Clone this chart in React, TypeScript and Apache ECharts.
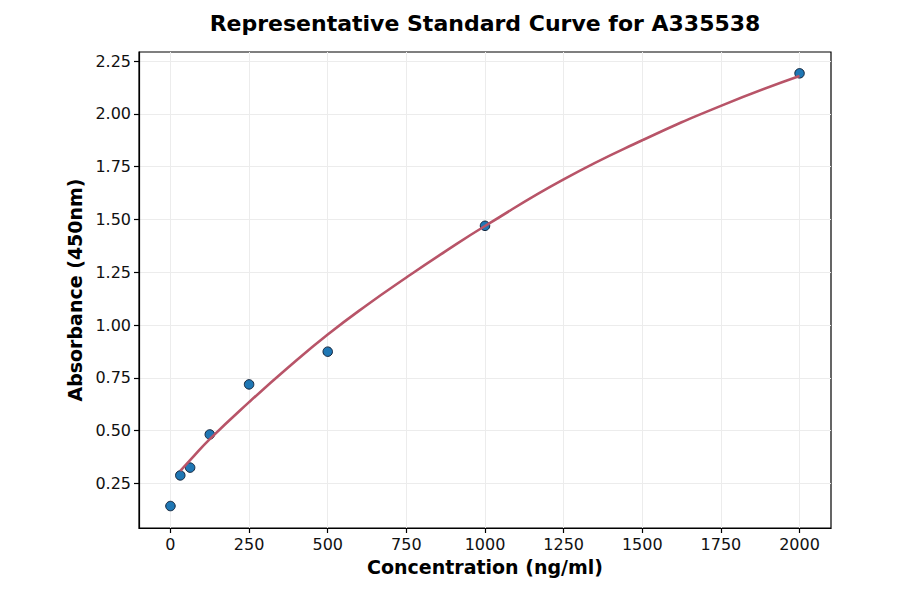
import { useEffect, useRef } from "react";
import * as echarts from "echarts";

// standard points
const concentrations = [0, 31.25, 62.5, 125, 250, 500, 1000, 2000];
const absorbances = [0.143, 0.288, 0.325, 0.482, 0.719, 0.874, 1.47, 2.192];

// fitted curve
const curveX = [31.25, 62.5, 125, 250, 375, 500, 625, 750, 875, 1000, 1250, 1500, 1750, 2000];
const curveY = [0.31, 0.36, 0.46, 0.635, 0.8, 0.955, 1.095, 1.225, 1.35, 1.469, 1.69, 1.875, 2.038, 2.179];

const xTicks = [0, 250, 500, 750, 1000, 1250, 1500, 1750, 2000];
const yTicks = [0.25, 0.5, 0.75, 1.0, 1.25, 1.5, 1.75, 2.0, 2.25];

const FONT = "DejaVu Sans";

function App() {
  const chartRef = useRef<HTMLDivElement>(null);

  useEffect(() => {
    if (!chartRef.current) return;
    const chart = echarts.init(chartRef.current, undefined, { renderer: "svg" });

    const axisCommon = {
      axisLine: { show: true, onZero: false, lineStyle: { color: "#000", width: 1.2 } },
      axisTick: { show: true, length: 5, lineStyle: { color: "#000", width: 1.2 } },
      splitLine: { show: true, lineStyle: { color: "#ececec", width: 1 } },
      nameLocation: "middle" as const,
      nameTextStyle: { fontFamily: FONT, fontWeight: "bold" as const, fontSize: 19, color: "#000" },
    };

    const option: echarts.EChartsOption = {
      animation: false,
      backgroundColor: "#fff",
      graphic: [
        {
          type: "text",
          x: 485,
          y: 23,
          style: {
            text: "Representative Standard Curve for A335538",
            font: `bold 22px "${FONT}"`,
            fill: "#000",
            textAlign: "center",
            textVerticalAlign: "middle",
          },
        },
      ],
      grid: {
        left: 139,
        right: 69,
        top: 52,
        bottom: 66,
        show: true,
        borderColor: "#000",
        borderWidth: 1.2,
        backgroundColor: "transparent",
      },
      xAxis: {
        type: "value",
        min: -100,
        max: 2100,
        name: "Concentration (ng/ml)",
        nameGap: 29,
        ...axisCommon,
        axisTick: { ...axisCommon.axisTick, customValues: xTicks },
        axisLabel: {
          customValues: xTicks,
          fontFamily: FONT,
          fontSize: 16,
          color: "#111",
          margin: 8,
          formatter: (v: number) => String(v),
        },
      } as any,
      yAxis: {
        type: "value",
        min: 0.039,
        max: 2.293,
        name: "Absorbance (450nm)",
        nameGap: 51,
        ...axisCommon,
        axisTick: { ...axisCommon.axisTick, customValues: yTicks },
        axisLabel: {
          customValues: yTicks,
          fontFamily: FONT,
          fontSize: 16,
          color: "#111",
          margin: 8,
          formatter: (v: number) => v.toFixed(2),
        },
      } as any,
      series: [
        {
          type: "scatter",
          data: concentrations.map((c, i) => [c, absorbances[i]]),
          symbolSize: 9.5,
          z: 2,
          itemStyle: { color: "#1f77b4", opacity: 1, borderColor: "#12233a", borderWidth: 1 },
        },
        {
          type: "line",
          data: curveX.map((c, i) => [c, curveY[i]]),
          smooth: true,
          showSymbol: false,
          z: 3,
          lineStyle: { color: "#b85468", width: 2.6 },
        },
      ],
    };

    chart.setOption(option);
    return () => {
      chart.dispose();
    };
  }, []);

  return (
    <div
      ref={chartRef}
      style={{ position: "fixed", left: 0, top: 0, width: 900, height: 594 }}
    />
  );
}

export default App;
